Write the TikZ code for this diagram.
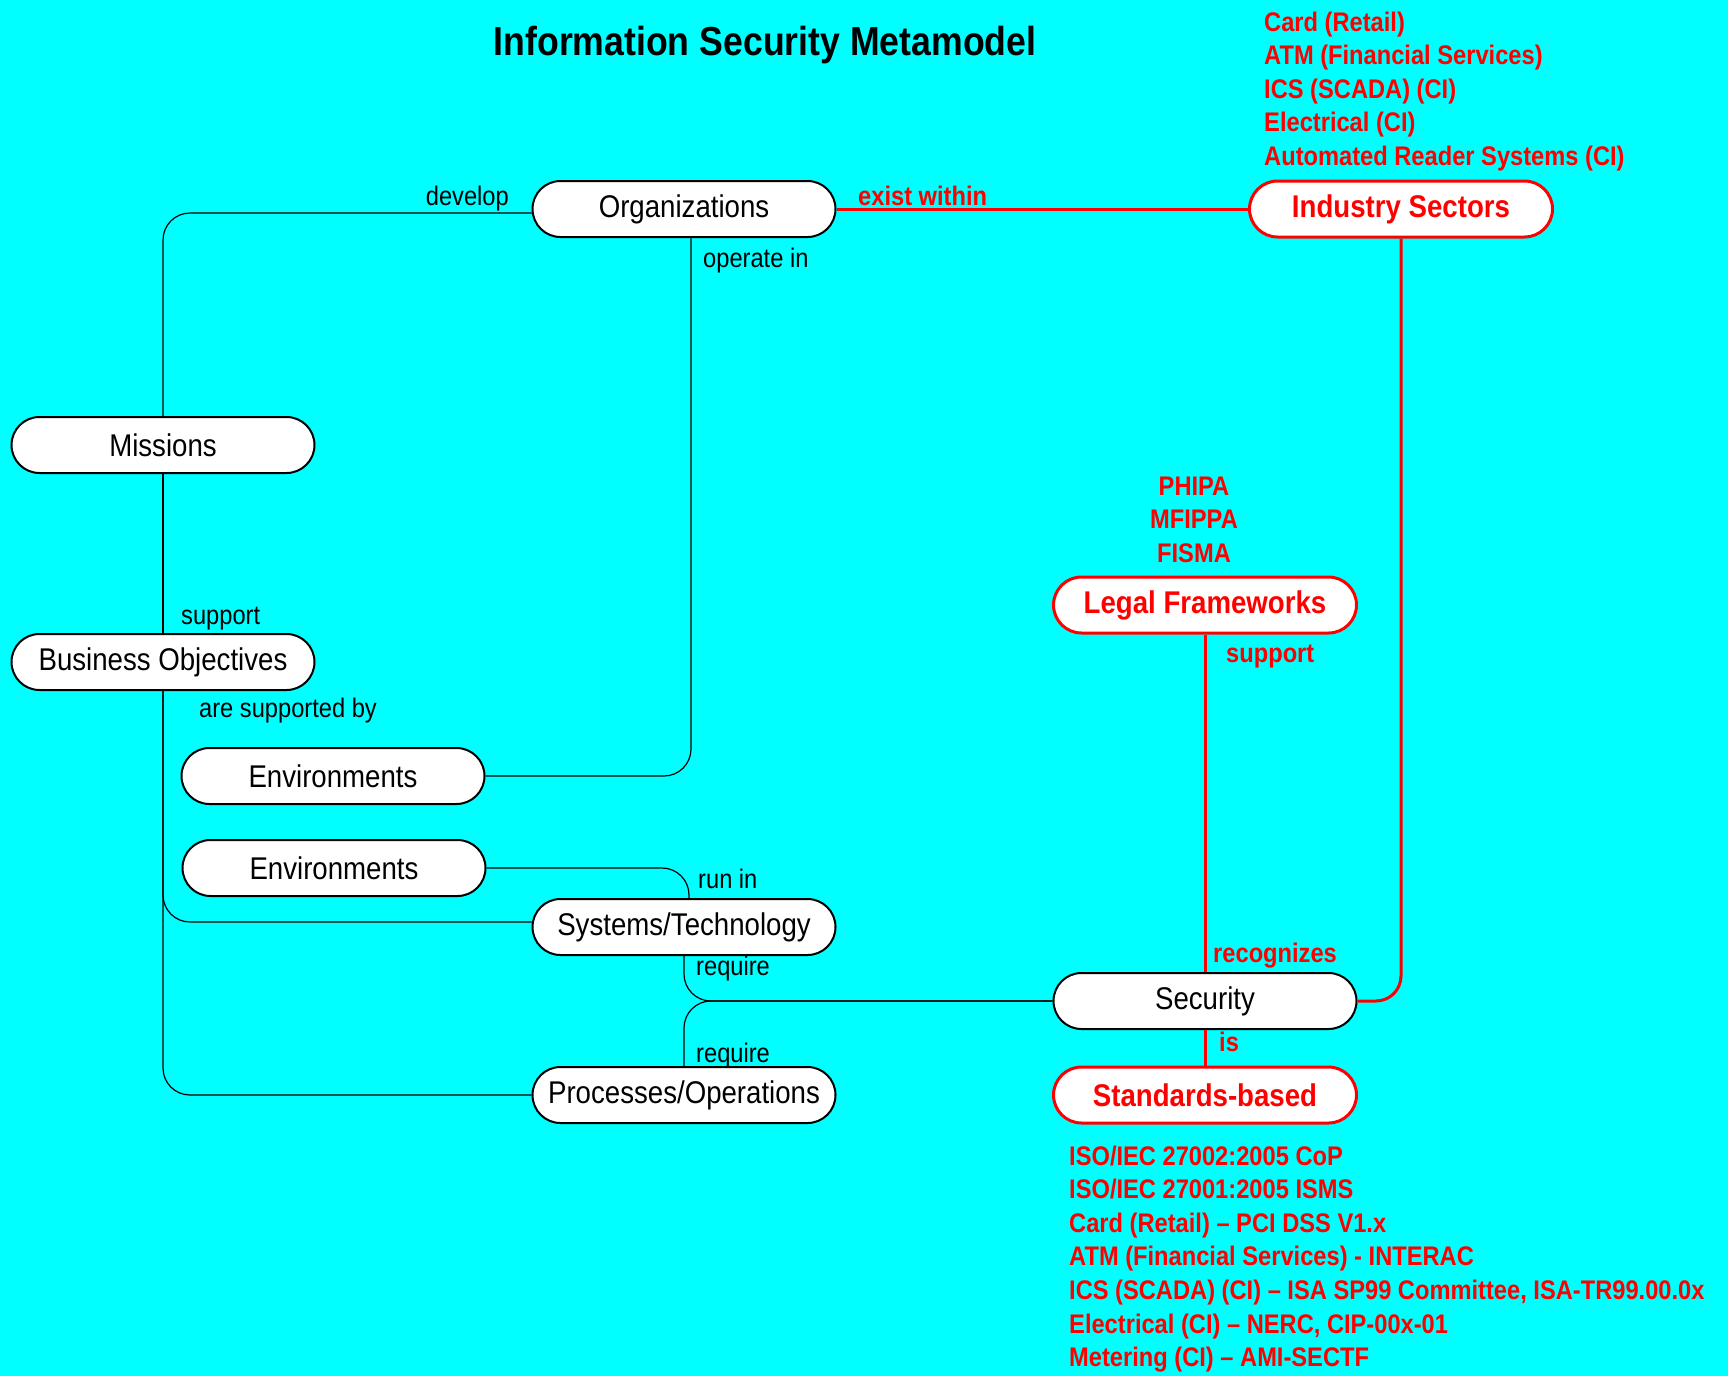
\documentclass[tikz,border=0pt]{standalone}
\usepackage{fontspec}
\setmainfont{Liberation Sans}[FakeStretch=0.88]
\definecolor{bg}{RGB}{0,255,255}
\definecolor{rd}{RGB}{255,0,0}
\begin{document}
\begin{tikzpicture}[x=1pt,y=-1pt,
  box/.style={draw=black, line width=2pt, fill=white, rounded corners=28pt,
    minimum width=303pt, minimum height=56pt, inner sep=0pt,
    font=\fontsize{31.4}{36}\selectfont},
  rbox/.style={box, draw=rd, line width=3pt, text=rd,
    font=\fontsize{31.4}{36}\selectfont\bfseries},
  lbl/.style={anchor=base west, inner sep=0pt, font=\fontsize{26.9}{33.6}\selectfont},
  rlbl/.style={lbl, text=rd, font=\fontsize{26.9}{33.6}\selectfont\bfseries},
  conn/.style={draw=black, line width=1.2pt, rounded corners=27pt},
  rconn/.style={draw=rd, line width=3pt, rounded corners=25pt}]
\fill[bg] (0,0) rectangle (1728,1376);
\useasboundingbox (0,0) rectangle (1728,1376);

% title
\node[anchor=base, inner sep=0pt, font=\fontsize{40.5}{44}\selectfont\bfseries] (title) at (765,55) {Information Security Metamodel};

% boxes
\node[box] (org) at (684,209) {Organizations};
\node[rbox] (ind) at (1401,209) {Industry Sectors};
\node[box] (mis) at (163,445) {Missions};
\node[box] (bo) at (163,662) {Business Objectives};
\node[box] (env1) at (333,776) {Environments};
\node[box] (env2) at (334,868) {Environments};
\node[box] (sys) at (684,927) {Systems/Technology};
\node[box] (sec) at (1205,1001) {Security};
\node[box] (proc) at (684,1095) {Processes/Operations};
\node[rbox] (std) at (1205,1095) {Standards-based};
\node[rbox] (legal) at (1205,605) {Legal Frameworks};

% connectors
\draw[conn] ([yshift=-4pt]org.west) -| (mis.north);
\draw[conn] (mis.south) -- (bo.north);
\draw[conn] ([xshift=7pt]org.south) |- (env1.east);
\draw[conn] (bo.south) |- (proc.west);
\draw[conn] (bo.south) |- ([yshift=5pt]sys.west);
\draw[conn] (env2.east) -| ([xshift=5pt]sys.north);
\draw[conn] (sys.south) |- (sec.west);
\draw[conn] (proc.north) |- (sec.west);
\draw[rconn] (org.east) -- (ind.west);
\draw[rconn] (ind.south) |- (sec.east);
\draw[rconn] (legal.south) -- (sec.north);
\draw[rconn] (sec.south) -- (std.north);

% labels
\node[lbl, anchor=base east] (ldevelop) at (509,205) {develop};
\node[lbl] (loperate) at (703,267) {operate in};
\node[rlbl] (lexist) at (858,205) {exist within};
\node[lbl] (lsupport) at (181,624) {support};
\node[lbl] (lare) at (199,717) {are supported by};
\node[lbl] (lrun) at (698,888) {run in};
\node[lbl] (lreq1) at (696,975) {require};
\node[lbl] (lreq2) at (696,1062) {require};
\node[rlbl] (lrsupport) at (1226,662) {support};
\node[rlbl] (lrecog) at (1213,962) {recognizes};
\node[rlbl] (lis) at (1219,1051) {is};

% lists
\node[rlbl] (sectors) at (1264,31) {\begin{tabular}[t]{@{}l@{}}Card (Retail)\\ATM (Financial Services)\\ICS (SCADA) (CI)\\Electrical (CI)\\Automated Reader Systems (CI)\end{tabular}};
\node[rlbl, anchor=base] (laws) at (1194,495) {\begin{tabular}[t]{@{}c@{}}PHIPA\\MFIPPA\\FISMA\end{tabular}};
\node[rlbl] (stds) at (1069,1165) {\begin{tabular}[t]{@{}l@{}}ISO/IEC 27002:2005 CoP\\ISO/IEC 27001:2005 ISMS\\Card (Retail) – PCI DSS V1.x\\ATM (Financial Services) - INTERAC\\ICS (SCADA) (CI) – ISA SP99 Committee, ISA-TR99.00.0x\\Electrical (CI) – NERC, CIP-00x-01\\Metering (CI) – AMI-SECTF\end{tabular}};
\end{tikzpicture}
\end{document}
